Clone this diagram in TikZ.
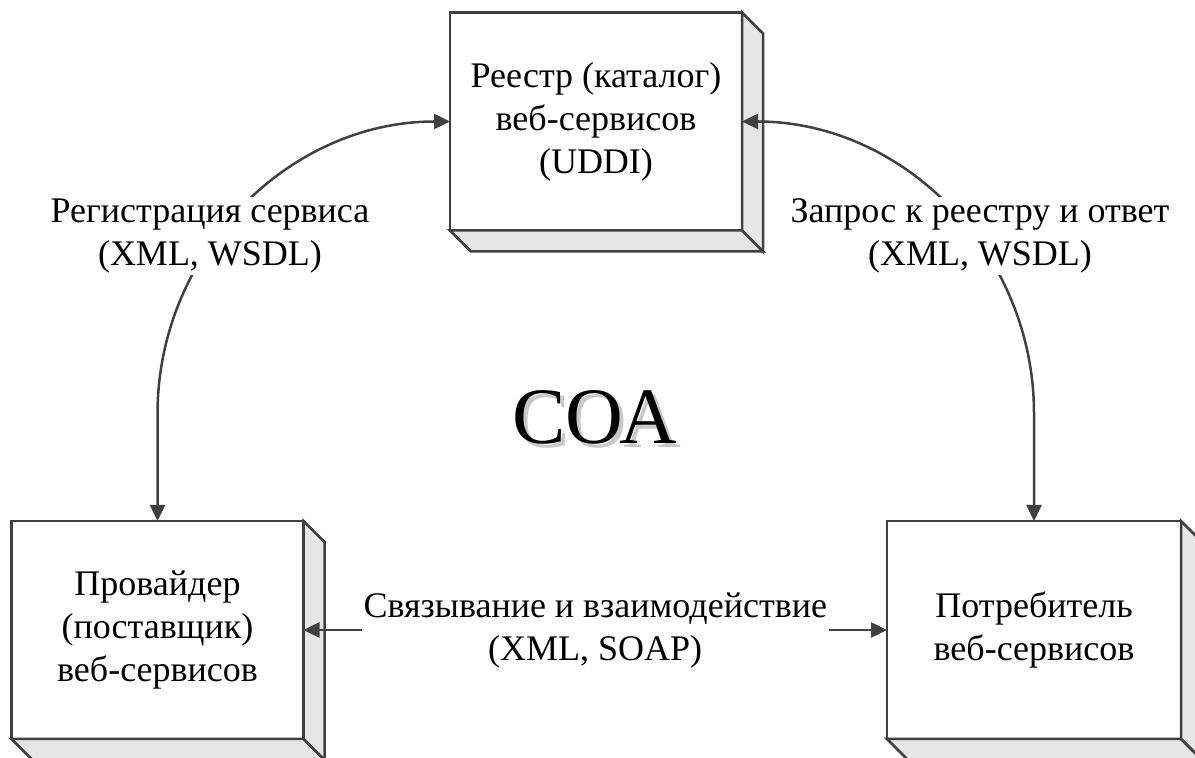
\documentclass[tikz,border=0pt]{standalone}
\usepackage{fontspec}
\setmainfont{Liberation Serif}
\usetikzlibrary{arrows.meta,calc}

\definecolor{edge}{HTML}{404040}
\definecolor{sideface}{HTML}{E6E6E6}
\definecolor{shadowgray}{HTML}{C8C8C8}

\tikzset{
  block/.style={draw=edge, line width=2.5pt, fill=white, inner sep=0pt, outer sep=0pt,
    minimum width=292pt, minimum height=218pt, align=center,
    font=\fontsize{36}{43}\selectfont},
  face/.style={draw=edge, fill=sideface, line width=2.5pt, line join=miter},
  conn/.style={draw=edge, line width=2.5pt,
    {Triangle[length=16pt,width=15pt]}-{Triangle[length=16pt,width=15pt]}},
  lbl/.style={fill=white, inner sep=2pt, align=center,
    font=\fontsize{36}{43}\selectfont}
}

% side and bottom faces of a 3D block drawn behind-right of its front face
\newcommand\blockfaces[1]{%
  \filldraw[face] (#1.north east) -- ++(21,-21) -- ($(#1.south east)+(21,-21)$) -- (#1.south east) -- cycle;
  \filldraw[face] (#1.south west) -- ++(21,-21) -- ($(#1.south east)+(21,-21)$) -- (#1.south east) -- cycle;
}

\begin{document}
\begin{tikzpicture}[x=1pt,y=1pt]
  \useasboundingbox (0,0) rectangle (1195,758);

  % blocks
  \node[block] (reg) at (596,636.5) {Реестр (каталог)\\веб-сервисов\\(UDDI)};
  \blockfaces{reg}
  \node[block] (prov) at (157.5,128) {Провайдер\\(поставщик)\\веб-сервисов};
  \blockfaces{prov}
  \node[block, minimum width=294pt] (cons) at (1034,128) {Потребитель\\веб-сервисов};
  \blockfaces{cons}

  % connectors
  \draw[conn] (reg.west) arc[start angle=90, end angle=180, radius=292.5pt] -- (prov.north);
  \draw[conn] (reg.east) arc[start angle=90, end angle=0, radius=292pt] -- (cons.north);
  \draw[conn] (prov.east) -- (cons.west);

  % connector labels
  \node[lbl] (lreg) at (210,522) {Регистрация сервиса\\(XML, WSDL)};
  \node[lbl] (lreq) at (980,522) {Запрос к реестру и ответ\\(XML, WSDL)};
  \node[lbl] (lbind) at ($(prov.east)!0.5!(cons.west)+(0,-1)$) {Связывание и взаимодействие\\(XML, SOAP)};

  % central title with a soft grey drop shadow
  \node[font=\fontsize{80}{84}\selectfont] (title) at (595,339)
    {\rlap{\kern4pt\raisebox{-4pt}{\textcolor{shadowgray}{СОА}}}СОА};
\end{tikzpicture}
\end{document}
